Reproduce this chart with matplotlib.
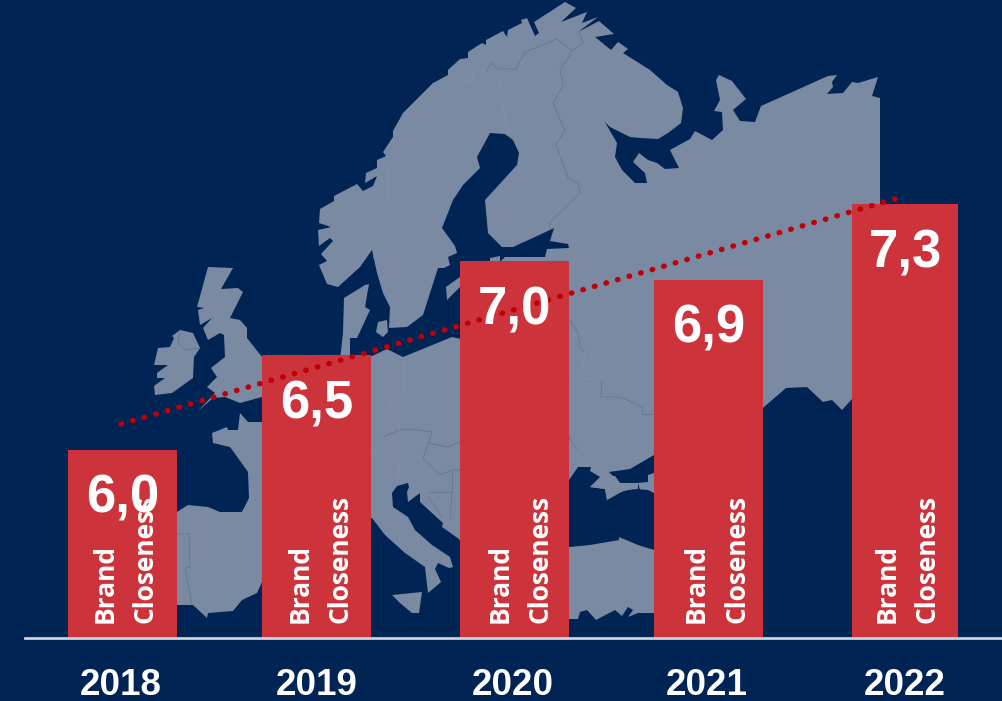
from __future__ import annotations

import matplotlib

matplotlib.use("Agg")
import matplotlib.pyplot as plt
from matplotlib.patches import Polygon

YEARS = ["2018", "2019", "2020", "2021", "2022"]
VALUES = [6.0, 6.5, 7.0, 6.9, 7.3]
VALUE_LABELS = ["6,0", "6,5", "7,0", "6,9", "7,3"]
TREND_VALUES = [6.135, 7.329]

BAR_CENTERS = [122.5, 316.5, 514.5, 708.5, 905.0]
BAR_WIDTHS = [109, 109, 109, 109, 106]
TREND_X = [121.0, 895.0]
BRAND_X = [105, 300, 500, 696, 887]
CLOSENESS_X = [145, 340, 540, 737, 927]
YEAR_X = [120.5, 316.5, 512.5, 707, 904.5]

NAVY = "#002454"
LAND = "#7a8aa3"
RED = "#cd333b"
DOT = "#c00008"

WIDTH, HEIGHT = 1002, 701
BASE_PX, UNIT_PX = 638.0, 188.5

# background map outlines, in picture pixels
MAINLAND = [
    (338, 287), (327, 284), (319, 265), (327, 261), (321, 254), (333, 241), (330, 238), (319, 246),
    (318, 230), (331, 227), (319, 223), (320, 209), (334, 201), (334, 196), (357, 184), (363, 191),
    (373, 186), (377, 176), (365, 183), (366, 173), (377, 168), (377, 160), (386, 156), (383, 152),
    (393, 137), (393, 131), (403, 113), (433, 83), (448, 75), (448, 70), (460, 59), (468, 58),
    (468, 52), (482, 43), (486, 45), (486, 40), (503, 31), (507, 37), (508, 30), (522, 23),
    (521, 20), (527, 18), (535, 36), (539, 33), (534, 22), (565, 2), (576, 8), (561, 22),
    (587, 12), (582, 23), (598, 17), (578, 32), (599, 21), (614, 34), (595, 37), (611, 50),
    (618, 42), (628, 49), (623, 53), (650, 70), (667, 85), (678, 92), (683, 108), (681, 123),
    (668, 133), (658, 139), (640, 138), (630, 137), (610, 127), (592, 109), (602, 117), (617, 143),
    (615, 157), (622, 170), (635, 183), (647, 183), (645, 173), (633, 162), (639, 153), (648, 160),
    (657, 163), (665, 169), (679, 168), (670, 150), (690, 139), (695, 131), (712, 140), (723, 130),
    (722, 112), (714, 111), (720, 100), (716, 80), (719, 75), (732, 81), (746, 99), (733, 110),
    (740, 121), (755, 122), (761, 106), (828, 76), (837, 75), (832, 82), (833, 87), (827, 94),
    (843, 93), (852, 82), (858, 83), (878, 77), (872, 96), (880, 98), (880, 204), (900, 300),
    (900, 395), (852, 399), (842, 410), (832, 400), (823, 402), (807, 387), (786, 388), (764, 407),
    (720, 450), (700, 600), (654, 613), (638, 613), (628, 617), (633, 610), (628, 607), (622, 616),
    (615, 610), (596, 620), (587, 610), (580, 612), (578, 619), (569, 619), (500, 620), (459, 539),
    (442, 527), (443, 523), (420, 502), (420, 493), (408, 502), (407, 492), (409, 487), (408, 483),
    (397, 486), (392, 493), (393, 507), (408, 517), (415, 530), (432, 545), (450, 557), (453, 567),
    (449, 568), (438, 563), (435, 569), (441, 582), (428, 593), (425, 567), (405, 553), (385, 535),
    (372, 518), (360, 518), (360, 356), (372, 356), (387, 349), (403, 357), (452, 337), (465, 340),
    (480, 300), (500, 262), (505, 257), (545, 257), (547, 249), (569, 248), (568, 244), (550, 241),
    (554, 228), (535, 237), (513, 247), (502, 247), (488, 233), (485, 200), (517, 165), (519, 153),
    (513, 140), (505, 134), (490, 133), (477, 157), (480, 168), (463, 185), (453, 200), (442, 228),
    (455, 246), (457, 253), (448, 257), (450, 265), (444, 268), (438, 268), (423, 315), (407, 327),
    (389, 328), (390, 307), (383, 293), (377, 273), (372, 250), (360, 267),
]
BRITAIN = [
    (208, 267), (233, 268), (221, 289), (238, 288), (243, 292), (230, 318), (240, 320), (247, 328),
    (247, 338), (262, 357), (290, 380), (262, 397), (240, 403), (225, 397), (213, 398), (198, 411),
    (215, 393), (207, 387), (217, 377), (211, 368), (225, 357), (224, 335), (220, 333), (208, 340),
    (203, 328), (212, 318), (200, 325), (198, 310), (204, 308), (197, 307),
]
IRELAND = [
    (172, 336), (180, 330), (193, 333), (200, 348), (194, 357), (193, 378), (172, 393), (155, 395),
    (154, 386), (165, 378), (157, 378), (157, 373), (168, 365), (154, 365), (158, 348), (170, 347),
    (174, 338),
]
FRANCE_SPAIN = [
    (150, 512), (177, 512), (188, 505), (208, 507), (220, 512), (242, 512), (249, 498), (248, 472),
    (238, 458), (230, 447), (213, 443), (212, 433), (227, 427), (228, 430), (238, 430), (240, 413),
    (248, 422), (262, 422), (300, 430), (300, 570), (262, 582), (257, 593), (242, 600), (233, 611),
    (208, 613), (207, 618), (193, 605), (150, 605),
]
SICILY = [(392, 595), (422, 592), (419, 613), (412, 613), (400, 603)]
DENMARK = [
    (344, 298), (365, 285), (369, 284), (365, 307), (370, 310), (357, 338), (350, 338), (350, 360),
    (340, 360), (343, 333),
]
ZEALAND = [(377, 327), (378, 322), (387, 320), (388, 332), (383, 337), (376, 332)]
GOTLAND = [(446, 287), (460, 277), (460, 287), (447, 300)]
ESTONIA_ISLE = [(490, 258), (500, 256), (500, 262), (490, 262)]
CRIMEA = [(590, 487), (604, 476), (615, 476), (620, 483), (638, 483), (638, 489), (625, 490), (607, 500), (605, 489)]
LANDS = [MAINLAND, BRITAIN, IRELAND, FRANCE_SPAIN, SICILY, DENMARK, ZEALAND, GOTLAND, ESTONIA_ISLE]

BLACK_SEA = [
    (560, 548), (569, 548), (569, 480), (578, 467), (591, 467), (590, 471), (600, 477), (590, 487),
    (605, 489), (607, 500), (620, 492), (633, 489), (648, 490), (654, 493), (665, 495), (665, 552),
    (654, 550), (638, 545), (619, 537), (619, 540), (590, 545),
]
AZOV_SEA = [
    (609, 472), (630, 469), (654, 455), (665, 450), (665, 473), (654, 473), (648, 475), (648, 482),
    (637, 483), (620, 483), (612, 475),
]
KERCH = [(633, 483), (638, 483), (640, 490), (634, 490)]

DARK_BORDERS = [
    [(583, 43), (572, 51), (557, 39), (525, 52), (516, 69), (498, 69), (491, 63), (486, 72)],
    [(572, 52), (560, 70), (563, 85), (553, 103), (565, 131), (556, 144), (568, 178), (578, 183), (580, 193), (549, 223), (550, 228)],
    [(579, 32), (583, 43)],
    [(177, 534), (189, 534), (190, 567), (185, 568), (192, 605)],
    [(180, 330), (178, 343), (185, 350), (200, 348)],
    [(383, 437), (400, 430), (412, 429), (432, 432)],
    [(432, 432), (423, 458), (440, 475), (452, 470), (460, 470)],
    [(428, 443), (448, 447), (460, 442)],
    [(428, 492), (452, 492), (452, 470)],
    [(428, 497), (442, 517)],
    [(452, 492), (450, 520)],
    [(570, 320), (578, 333), (580, 348), (585, 352)],
    [(602, 380), (601, 397), (620, 397), (642, 407), (643, 415), (654, 414)],
    [(569, 437), (577, 449)],
]
LIGHT_BORDERS = [
    [(486, 72), (473, 69), (472, 80), (457, 83), (453, 97), (440, 97), (409, 133), (416, 140), (398, 159), (387, 170), (390, 213), (386, 220), (387, 235), (373, 258)],
    [(498, 69), (500, 85), (507, 135)],
    [(405, 357), (404, 397)],
    [(390, 402), (404, 397), (420, 403), (448, 420), (460, 422)],
    [(390, 402), (393, 417), (400, 431)],
    [(432, 432), (449, 420)],
    [(423, 458), (400, 461), (383, 437)],
    [(370, 453), (380, 453), (400, 461), (398, 480)],
    [(403, 475), (423, 477), (431, 470)],
    [(585, 352), (583, 367), (569, 388)],
    [(582, 378), (602, 380)],
    [(242, 511), (262, 525)],
]


def px_to_value(y_px):
    return (BASE_PX - y_px) / UNIT_PX + 5.0


def add_shape(axis, outline, color, zorder):
    points = [(x, px_to_value(y)) for x, y in outline]
    axis.add_patch(Polygon(points, closed=True, facecolor=color, edgecolor="none", zorder=zorder))


def main() -> None:
    figure = plt.figure(figsize=(WIDTH / 100, HEIGHT / 100), dpi=100, facecolor=NAVY)
    axis = figure.add_axes([0, 0, 1, 1])
    axis.set_facecolor(NAVY)
    axis.set_xlim(0, WIDTH)
    axis.set_ylim(px_to_value(HEIGHT), px_to_value(0))
    axis.axis("off")

    for outline in LANDS:
        add_shape(axis, outline, LAND, 1)
    for outline in (BLACK_SEA, AZOV_SEA, KERCH):
        add_shape(axis, outline, NAVY, 1.2)
    add_shape(axis, CRIMEA, LAND, 1.3)

    for borders, color in ((DARK_BORDERS, "#5a6e90"), (LIGHT_BORDERS, "#8593aa")):
        for border in borders:
            axis.plot(
                [p[0] for p in border],
                [px_to_value(p[1]) for p in border],
                color=color,
                linewidth=0.4,
                zorder=1.5,
            )

    axis.bar(BAR_CENTERS, [v - 5.0 for v in VALUES], bottom=5.0, width=BAR_WIDTHS, color=RED, zorder=2)
    axis.plot([25, WIDTH], [5.0, 5.0], color="#ccd2dc", linewidth=2, zorder=3)
    axis.plot(
        TREND_X,
        TREND_VALUES,
        color=DOT,
        linewidth=3.9,
        linestyle=(0, (0.1, 2.12)),
        dash_capstyle="round",
        zorder=4,
    )

    for center, value, label in zip(BAR_CENTERS, VALUES, VALUE_LABELS):
        axis.text(
            center,
            value - 0.26,
            label,
            color="white",
            fontsize=38,
            fontweight="bold",
            family="Liberation Sans",
            ha="center",
            va="center",
            zorder=5,
        )
    for x_brand, x_close, x_year, year in zip(BRAND_X, CLOSENESS_X, YEAR_X, YEARS):
        for x_text, word in ((x_brand, "Brand"), (x_close, "Closeness")):
            axis.text(
                x_text,
                px_to_value(623),
                word,
                color="white",
                fontsize=19,
                fontweight="bold",
                family="Open Sans",
                rotation=90,
                ha="center",
                va="bottom",
                zorder=5,
            )
        axis.text(
            x_year,
            px_to_value(685),
            year,
            color="white",
            fontsize=26.5,
            fontweight="bold",
            family="Liberation Sans",
            ha="center",
            va="center",
            zorder=5,
        )

    figure.savefig("out.png", dpi=100, facecolor=NAVY)
    plt.close(figure)


if __name__ == "__main__":
    main()
